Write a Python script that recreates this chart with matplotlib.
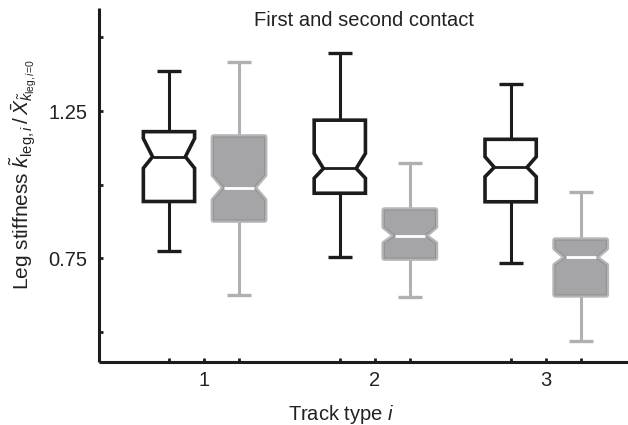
import matplotlib
matplotlib.use("Agg")
import matplotlib.pyplot as plt
from matplotlib.patches import Polygon

plt.rcParams['font.family'] = ['Liberation Sans', 'DejaVu Sans']
plt.rcParams['mathtext.fontset'] = 'custom'
plt.rcParams['mathtext.rm'] = 'Liberation Sans'
plt.rcParams['mathtext.it'] = 'Liberation Sans:italic'
plt.rcParams['mathtext.bf'] = 'Liberation Sans:bold'

# ---- data ----
track_types = [1, 2, 3]
tick_labels = ['1', '2', '3']

# first contact (black)
first_whislo = [0.776, 0.756, 0.733]
first_q1 = [0.943, 0.971, 0.942]
first_cilo = [1.056, 1.022, 1.027]
first_med = [1.095, 1.055, 1.059]
first_cihi = [1.157, 1.106, 1.095]
first_q3 = [1.180, 1.219, 1.154]
first_whishi = [1.386, 1.446, 1.342]

# second contact (grey)
second_whislo = [0.627, 0.620, 0.471]
second_q1 = [0.880, 0.751, 0.626]
second_cilo = [0.948, 0.801, 0.727]
second_med = [0.990, 0.827, 0.753]
second_cihi = [1.033, 0.857, 0.784]
second_q3 = [1.162, 0.914, 0.812]
second_whishi = [1.415, 1.073, 0.976]

yticks = [0.5, 0.75, 1.0, 1.25, 1.5]
ytick_labels = ['', '0.75', '', '1.25', '']

W, H = 628, 425
fig = plt.figure(figsize=(W / 100, H / 100), dpi=100)
left, right, top, bottom = 99, 628, 7.9, 361.5
ax = fig.add_axes([left / W, 1 - bottom / H, (right - left) / W, (bottom - top) / H])
ax.set_xlim(0.3854, 3.482)
ax.set_ylim(0.4, 1.6)

offset = 0.205
box_w = 0.30
cap_w = 0.14
notch_first = 0.64
notch_second = 0.58

BLACK = '#1c1c1c'
G_FILL = '#a5a5a8'
G_EDGE = '#b6b6b8'
G_INNER = '#8e8e92'
G_WHISK = '#b0b0b2'
TXT = '#222222'


def box_poly(pos, q1, cilo, med, cihi, q3, frac):
    l, r = pos - box_w / 2, pos + box_w / 2
    nl, nr = pos - box_w / 2 * frac, pos + box_w / 2 * frac
    xs = [l, r, r, nr, r, r, l, l, nl, l, l]
    ys = [q1, q1, cilo, med, cihi, q3, q3, cihi, med, cilo, q1]
    return list(zip(xs, ys)), (nl, nr)


for i, t in enumerate(track_types):
    # first contact (black)
    p = t - offset
    ax.vlines(p, first_q3[i], first_whishi[i], color=BLACK, lw=2.2, zorder=2)
    ax.vlines(p, first_whislo[i], first_q1[i], color=BLACK, lw=2.2, zorder=2)
    ax.hlines([first_whishi[i], first_whislo[i]], p - cap_w / 2, p + cap_w / 2,
              color=BLACK, lw=2.4, zorder=2)
    verts, (nl, nr) = box_poly(p, first_q1[i], first_cilo[i], first_med[i],
                               first_cihi[i], first_q3[i], notch_first)
    ax.add_patch(Polygon(verts, closed=True, facecolor='white', edgecolor=BLACK,
                         lw=2.6, joinstyle='miter', zorder=3))
    ax.hlines(first_med[i], nl, nr, color=BLACK, lw=2.0, zorder=4)

    # second contact (grey)
    p = t + offset
    ax.vlines(p, second_q3[i], second_whishi[i], color=G_WHISK, lw=2.2, zorder=2)
    ax.vlines(p, second_whislo[i], second_q1[i], color=G_WHISK, lw=2.2, zorder=2)
    ax.hlines([second_whishi[i], second_whislo[i]], p - cap_w / 2, p + cap_w / 2,
              color=G_WHISK, lw=2.4, zorder=2)
    verts, (nl, nr) = box_poly(p, second_q1[i], second_cilo[i], second_med[i],
                               second_cihi[i], second_q3[i], notch_second)
    ax.add_patch(Polygon(verts, closed=True, facecolor=G_EDGE, edgecolor=G_EDGE,
                         lw=4.0, joinstyle='round', zorder=3))
    ax.add_patch(Polygon(verts, closed=True, facecolor=G_FILL, edgecolor=G_INNER,
                         lw=0.7, joinstyle='miter', zorder=4))
    ax.hlines(second_med[i], nl, nr, color='white', lw=2.0, zorder=5)

# axes styling
for s in ['top', 'right']:
    ax.spines[s].set_visible(False)
for s in ['left', 'bottom']:
    ax.spines[s].set_linewidth(2.2)
    ax.spines[s].set_color(BLACK)
    ax.spines[s].set_capstyle('butt')

ax.set_yticks(yticks)
ax.set_yticklabels(ytick_labels)
ax.set_xticks(track_types)
ax.set_xticklabels(tick_labels)
minor_x = [t + d for t in track_types for d in (-offset, offset)]
ax.set_xticks(minor_x, minor=True)
ax.tick_params(axis='both', which='both', direction='in', length=3, width=2.0,
               color=BLACK, labelsize=14.5, labelcolor=TXT)
ax.tick_params(axis='x', which='both', pad=6.5)
ax.tick_params(axis='y', which='both', pad=8.5)

fig.text(364 / W, 1 - 26.5 / H, 'First and second contact', ha='center', va='baseline',
         fontsize=14.5, color=TXT)
fig.text(341 / W, 1 - 420 / H, 'Track type $i$', ha='center', va='baseline',
         fontsize=14.5, color=TXT)
fig.text(23 / W, 1 - 175 / H,
         r'Leg stiffness $\tilde{k}_{\mathrm{leg},i}\,/\,\bar{X}_{\tilde{k}_{\mathrm{leg},i\!=\!0}}$',
         rotation=90, ha='center', va='center', fontsize=15, color=TXT)

fig.savefig('out.png', dpi=100)
